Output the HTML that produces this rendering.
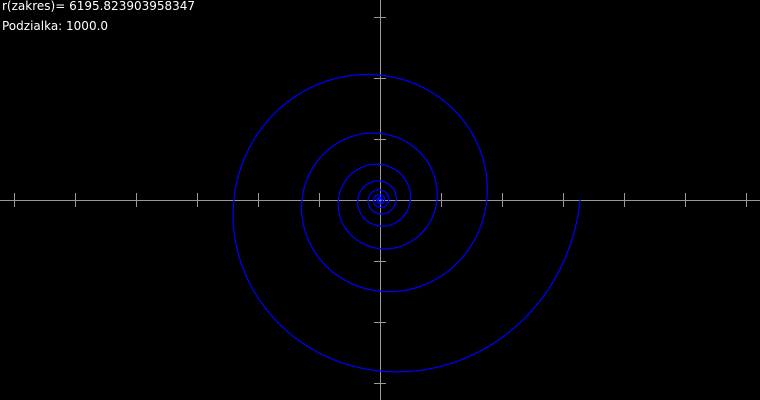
<!DOCTYPE html>
<html><head><meta charset="utf-8"><style>
html,body{margin:0;padding:0;background:#000;width:760px;height:400px;overflow:hidden}
svg{display:block}
text{font-family:"DejaVu Sans","Liberation Sans",sans-serif;font-size:12px;fill:#fff}
</style></head><body>
<svg id="chart" width="760" height="400" viewBox="0 0 760 400">
<rect width="760" height="400" fill="#000"/>
<text x="2" y="10">r(zakres)= 6195.823903958347</text>
<text x="2" y="30">Podzialka: 1000.0</text>
<g id="axes"></g>
<path id="spiral" fill="none" stroke="#0000ff" stroke-width="1.2"/>
</svg>
<script>
const range = [6195.823903958347];
const tickStep = [1000];
const spiralEndRadius = [3280];   // data units at end angle 0
const spiralGrowth = [0.1];       // log-spiral growth per radian
const spiralTurns = [8];

const W=760,H=400,cx=380,cy=200;
const scale=0.061;
const sx=v=>cx+v*scale, sy=v=>cy-v*scale;
const NS="http://www.w3.org/2000/svg";
const axes=document.getElementById('axes');
function line(x1,y1,x2,y2,name){
  const l=document.createElementNS(NS,'line');
  l.setAttribute('x1',x1);l.setAttribute('y1',y1);l.setAttribute('x2',x2);l.setAttribute('y2',y2);
  l.setAttribute('stroke','#999');l.setAttribute('stroke-width','1');
  
  
  axes.appendChild(l);
}
line(0,cy+0.5,W,cy+0.5,'x-axis');
line(cx+0.5,0,cx+0.5,H,'y-axis');
for(let k=-6;k<=6;k++){
  if(k===0) continue;
  const x=Math.round(sx(k*tickStep[0]))+0.5;
  line(x,cy-7,x,cy+7,'x-tick');
  const y=Math.round(sy(k*tickStep[0]))+0.5;
  if(y>0&&y<H) line(cx-6,y,cx+6,y,'y-tick');
}
let d='';
const tMax=spiralTurns[0]*2*Math.PI;
for(let i=0;i<=4000;i++){
  const t=-tMax*i/4000;
  const r=spiralEndRadius[0]*Math.exp(spiralGrowth[0]*t);
  const x=sx(r*Math.cos(t)), y=sy(r*Math.sin(t));
  d+=(i?'L':'M')+x.toFixed(2)+' '+y.toFixed(2);
}
document.getElementById('spiral').setAttribute('d',d);
</script>
</body></html>
